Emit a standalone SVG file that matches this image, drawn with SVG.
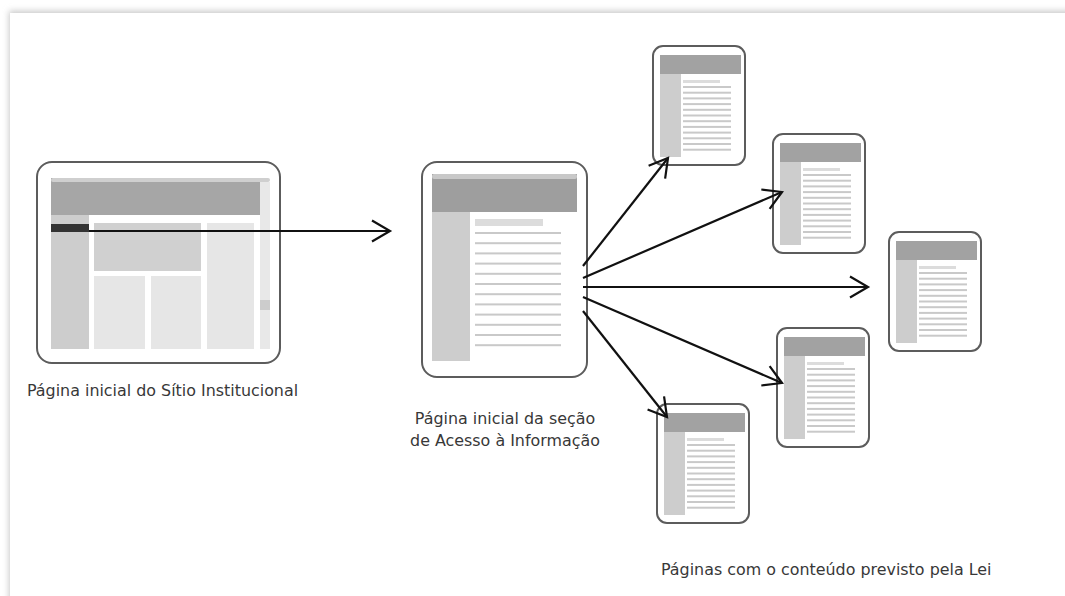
<svg xmlns="http://www.w3.org/2000/svg" xmlns:xlink="http://www.w3.org/1999/xlink" width="1065" height="596" viewBox="0 0 1065 596">
<style>
.frame{fill:#ffffff;stroke:#5c5c5c;stroke-width:2}
.hdr{fill:#a2a2a2}
.side{fill:#cdcdcd}
.ttl{fill:#dcdcdc}
.ln{fill:#c9c9c9}
.box1{fill:#d0d0d0}
.box2{fill:#e6e6e6}
.conn{fill:none;stroke:#111111;stroke-width:2.2}
.lbl{font-family:"DejaVu Sans",Verdana,sans-serif;font-size:15.9px;fill:#383838}
</style>
<defs>
<filter id="sh" x="-5%" y="-5%" width="110%" height="110%">
<feGaussianBlur stdDeviation="3"/>
</filter>
<marker id="ah" markerUnits="userSpaceOnUse" viewBox="-24 -14 28 28" markerWidth="28" markerHeight="28" refX="0" refY="0" orient="auto" overflow="visible">
<path d="M-18,-10.5 L0,0 L-18,10.5" fill="none" stroke="#111111" stroke-width="2.2"/>
</marker>
<g id="small">
<rect class="frame" x="0" y="0" width="92" height="119" rx="10"/>
<rect class="hdr" x="7" y="9" width="81" height="19"/>
<rect class="side" x="7" y="28" width="21" height="83"/>
<rect class="ttl" x="30" y="34" width="37" height="3"/>
<rect class="ln" x="30" y="40" width="48" height="2"/>
<rect class="ln" x="30" y="45.7" width="48" height="2"/>
<rect class="ln" x="30" y="51.4" width="48" height="2"/>
<rect class="ln" x="30" y="57.1" width="48" height="2"/>
<rect class="ln" x="30" y="62.8" width="48" height="2"/>
<rect class="ln" x="30" y="68.5" width="48" height="2"/>
<rect class="ln" x="30" y="74.2" width="48" height="2"/>
<rect class="ln" x="30" y="79.9" width="48" height="2"/>
<rect class="ln" x="30" y="85.6" width="48" height="2"/>
<rect class="ln" x="30" y="91.3" width="48" height="2"/>
<rect class="ln" x="30" y="97" width="48" height="2"/>
<rect class="ln" x="30" y="102.7" width="48" height="2"/>
</g>
</defs>
<rect x="0" y="0" width="1065" height="596" fill="#ffffff"/>
<rect x="9" y="11" width="1070" height="600" fill="#c8c8c8" filter="url(#sh)"/>
<rect x="10" y="13" width="1060" height="590" fill="#ffffff"/>

<g id="home">
<rect class="frame" x="37" y="162" width="243" height="201" rx="15"/>
<rect x="51" y="178" width="219" height="171" fill="#ffffff"/>
<rect x="51" y="178" width="209" height="37" fill="#a6a6a6"/>
<rect x="51" y="178" width="219" height="4" rx="2" fill="#cfcfcf"/>
<rect x="260" y="182" width="10" height="167" fill="#e8e8e8"/>
<rect x="260" y="300" width="10" height="10" fill="#cccccc"/>
<rect class="side" x="51" y="215" width="38" height="134"/>
<rect x="51" y="224" width="38" height="8" fill="#333333"/>
<rect class="box1" x="94" y="223" width="107" height="48"/>
<rect class="box2" x="207" y="223" width="47" height="126"/>
<rect class="box2" x="94" y="276" width="51" height="73"/>
<rect class="box2" x="151" y="276" width="50" height="73"/>
<text class="lbl" x="27" y="396">Página inicial do Sítio Institucional</text>
</g>

<g id="section">
<rect class="frame" x="422" y="162" width="165" height="215" rx="15"/>
<rect x="432" y="174" width="145" height="38" fill="#9e9e9e"/>
<rect x="432" y="174" width="145" height="5" rx="2" fill="#c8c8c8"/>
<rect class="side" x="432" y="212" width="38" height="149"/>
<rect class="ttl" x="475" y="219" width="68" height="7"/>
<rect class="ln" x="475" y="232" width="86" height="2"/>
<rect class="ln" x="475" y="242.2" width="86" height="2"/>
<rect class="ln" x="475" y="252.4" width="86" height="2"/>
<rect class="ln" x="475" y="262.6" width="86" height="2"/>
<rect class="ln" x="475" y="272.8" width="86" height="2"/>
<rect class="ln" x="475" y="283" width="86" height="2"/>
<rect class="ln" x="475" y="293.2" width="86" height="2"/>
<rect class="ln" x="475" y="303.4" width="86" height="2"/>
<rect class="ln" x="475" y="313.6" width="86" height="2"/>
<rect class="ln" x="475" y="323.8" width="86" height="2"/>
<rect class="ln" x="475" y="334" width="86" height="2"/>
<rect class="ln" x="475" y="344.2" width="86" height="2"/>
<text class="lbl" x="505" y="424" text-anchor="middle">Página inicial da seção</text>
<text class="lbl" x="505" y="446" text-anchor="middle">de Acesso à Informação</text>
</g>

<g id="page1"><use xlink:href="#small" href="#small" x="653" y="46"/></g>
<g id="page2"><use xlink:href="#small" href="#small" x="773" y="134"/></g>
<g id="page3"><use xlink:href="#small" href="#small" x="889" y="232"/></g>
<g id="page4"><use xlink:href="#small" href="#small" x="777" y="328"/></g>
<g id="page5"><use xlink:href="#small" href="#small" x="657" y="404"/></g>
<g id="pages-label">
<text class="lbl" x="661" y="575">Páginas com o conteúdo previsto pela Lei</text>
</g>

<g id="connectors">
<line class="conn" x1="89" y1="231" x2="390" y2="231" marker-end="url(#ah)"/>
<line class="conn" x1="583" y1="266" x2="668" y2="158" marker-end="url(#ah)"/>
<line class="conn" x1="583" y1="278" x2="782" y2="192" marker-end="url(#ah)"/>
<line class="conn" x1="583" y1="287" x2="868" y2="287" marker-end="url(#ah)"/>
<line class="conn" x1="583" y1="297" x2="782" y2="383" marker-end="url(#ah)"/>
<line class="conn" x1="583" y1="311" x2="667" y2="417" marker-end="url(#ah)"/>
</g>
</svg>
